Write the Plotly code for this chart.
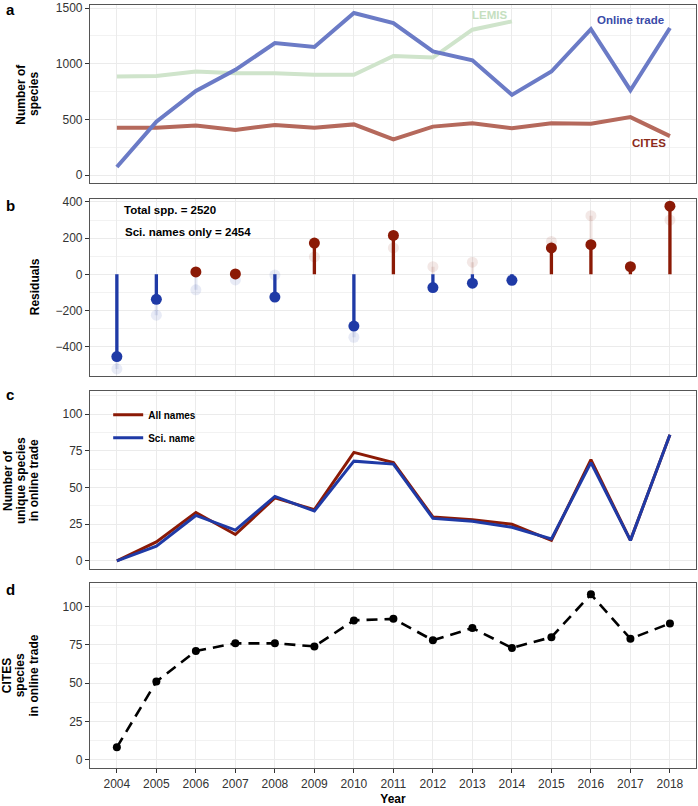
import plotly.graph_objects as go
from plotly.subplots import make_subplots

# ---------------- data ----------------
years = list(range(2004, 2019))
online_trade = [72, 480, 755, 945, 1185, 1150, 1455, 1365, 1110, 1030, 720, 930, 1310, 762, 1320]
lemis_years = list(range(2004, 2015))
lemis = [885, 890, 930, 915, 915, 900, 900, 1070, 1055, 1305, 1380]
cites = [425, 425, 445, 405, 450, 425, 455, 320, 435, 465, 420, 465, 460, 520, 350]

resid_main = [-455, -138, 13, 2, -126, 173, -286, 215, -73, -49, -33, 146, 164, 42, 377]
resid_faded = [-523, -226, -86, -31, -4, 96, -348, 146, 42, 67, -28, 182, 324, 38, 300]

unique_all = [0, 13, 33, 18, 43, 35, 74, 67, 30, 28, 25, 14, 69, 14, 86]
unique_sci = [0, 10, 31, 21, 44, 34, 68, 66, 29, 27, 23, 15, 67, 14, 86]

cites_online = [8, 51, 71, 76, 76, 74, 91, 92, 78, 86, 73, 80, 108, 79, 89]

total_label = "Total spp. = 2520"
sci_label = "Sci. names only = 2454"

# ---------------- style ----------------
FONT = "Liberation Sans, Arial, sans-serif"
RED = "#8B1A06"
BLUE = "#1F3AA6"
RED_FADE = "rgba(139,26,6,0.10)"
BLUE_FADE = "rgba(31,58,166,0.10)"

fig = make_subplots(rows=4, cols=1, shared_xaxes=False, vertical_spacing=0.0)

doms = [(0.7669, 1.0), (0.5143, 0.7461), (0.2608, 0.4935), (0.0, 0.2426)]

# ---- panel a ----
fig.add_trace(go.Scatter(x=lemis_years, y=lemis, mode="lines",
                         line=dict(color="#CFE4CB", width=4), showlegend=False), 1, 1)
fig.add_trace(go.Scatter(x=years, y=cites, mode="lines",
                         line=dict(color="#B5695C", width=4), showlegend=False), 1, 1)
fig.add_trace(go.Scatter(x=years, y=online_trade, mode="lines",
                         line=dict(color="#6B7BC6", width=4), showlegend=False), 1, 1)


# ---- panel b ----
def stems(xs, vs, positive):
    sx, sy, px, py = [], [], [], []
    for x, v in zip(xs, vs):
        if (v >= 0) == positive:
            sx += [x, x, None]
            sy += [0, v, None]
            px.append(x)
            py.append(v)
    return sx, sy, px, py


for vals, faded in ((resid_faded, True), (resid_main, False)):
    for positive in (True, False):
        sx, sy, px, py = stems(years, vals, positive)
        if faded:
            col = RED_FADE if positive else BLUE_FADE
        else:
            col = RED if positive else BLUE
        fig.add_trace(go.Scatter(x=sx, y=sy, mode="lines",
                                 line=dict(color=col, width=3.3), showlegend=False), 2, 1)
        fig.add_trace(go.Scatter(x=px, y=py, mode="markers",
                                 marker=dict(color=col, size=11, line=dict(width=0)),
                                 showlegend=False), 2, 1)

# ---- panel c ----
fig.add_trace(go.Scatter(x=years, y=unique_all, mode="lines", name="All names",
                         legendgroup="g1",
                         line=dict(color=RED, width=3)), 3, 1)
fig.add_trace(go.Scatter(x=years, y=unique_sci, mode="lines", name="Sci. name",
                         legendgroup="g2",
                         line=dict(color=BLUE, width=3)), 3, 1)

# ---- panel d ----
fig.add_trace(go.Scatter(x=years, y=cites_online, mode="lines+markers",
                         line=dict(color="black", width=2.6, dash="11px,7px"),
                         marker=dict(color="black", size=8),
                         showlegend=False), 4, 1)

# ---------------- axes ----------------
yranges = [[-70, 1527], [-560, 418], [-5.5, 115.5], [-5.5, 115.5]]
ydticks = [500, 200, 25, 25]
for i in range(4):
    n = "" if i == 0 else str(i + 1)
    fig.layout["xaxis" + n].update(
        domain=[0, 1], range=[2003.32, 2018.66], tickmode="linear", tick0=2004, dtick=1,
        showgrid=True, gridcolor="#EBEBEB", gridwidth=1, zeroline=False,
        showline=True, linecolor="#555555", linewidth=1.2, mirror=True,
        ticks="outside" if i == 3 else "", ticklen=4, tickcolor="#333333",
        showticklabels=(i == 3),
        tickfont=dict(family=FONT, size=12, color="#333333"),
    )
    fig.layout["yaxis" + n].update(
        domain=list(doms[i]), range=yranges[i], tickmode="linear", tick0=0, dtick=ydticks[i],
        showgrid=True, gridcolor="#EBEBEB", gridwidth=1, zeroline=False,
        minor=dict(showgrid=True, gridcolor="#F2F2F2", gridwidth=0.7, tick0=0,
                   dtick=ydticks[i] / 2, ticks=""),
        showline=True, linecolor="#555555", linewidth=1.2, mirror=True,
        ticks="outside", ticklen=4, tickcolor="#333333",
        tickfont=dict(family=FONT, size=12, color="#333333"),
    )

fig.layout.xaxis4.update(title=dict(text="Year", font=dict(family=FONT, size=12, color="black", weight="bold"),
                                    standoff=6))

# ---------------- annotations ----------------
ann = []
lab_font = dict(family=FONT, size=11.5, weight="bold")
ann.append(dict(x=2013.42, y=1438, xref="x", yref="y", text="LEMIS", showarrow=False,
                font=dict(lab_font, color="#C5DFC0")))
ann.append(dict(x=2017.0, y=1388, xref="x", yref="y", text="Online trade", showarrow=False,
                font=dict(lab_font, color="#3A4AA8")))
ann.append(dict(x=2017.47, y=289, xref="x", yref="y", text="CITES", showarrow=False,
                font=dict(lab_font, color="#8B2A1A")))

ann.append(dict(x=2004.12, y=356, xref="x2", yref="y2", text=total_label, showarrow=False,
                xanchor="left", font=dict(lab_font, color="black")))
ann.append(dict(x=2004.15, y=236, xref="x2", yref="y2", text=sci_label, showarrow=False,
                xanchor="left", font=dict(lab_font, color="black")))

letters = [("a", 0.9935), ("b", 0.737), ("c", 0.4896), ("d", 0.2344)]
for t, yy in letters:
    ann.append(dict(x=-0.1417, y=yy, xref="paper", yref="paper", text=t, showarrow=False,
                    xanchor="left", yanchor="middle",
                    font=dict(family=FONT, size=15, color="black", weight="bold")))

# y-axis titles: one annotation per line so the line spacing matches
PLOT_L, PLOT_W = 90, 607
titles = [(["Number of", "species"], 0.8836, 34),
          (["Residuals"], 0.6302, 35),
          (["Number of", "unique species", "in online trade"], 0.3772, 34),
          (["CITES", "species", "in online trade"], 0.1213, 34)]
for lines, yy, last_px in titles:
    nl = len(lines)
    for k, t in enumerate(lines):
        px = last_px - (nl - 1 - k) * 13.2
        ann.append(dict(x=(px - PLOT_L) / PLOT_W, y=yy, xref="paper", yref="paper", text=t,
                        showarrow=False, textangle=-90, xanchor="center", yanchor="middle",
                        font=dict(family=FONT, size=12, color="black", weight="bold")))

fig.update_layout(
    width=698, height=806,
    margin=dict(l=90, r=1, t=1, b=37),
    paper_bgcolor="white", plot_bgcolor="white",
    annotations=ann,
    legend=dict(x=0.03, y=0.482, xanchor="left", yanchor="top",
                bgcolor="rgba(255,255,255,0)", traceorder="grouped", tracegroupgap=4,
                font=dict(family=FONT, size=10, color="black", weight="bold")),
    font=dict(family=FONT),
)

fig.write_html("out.html", config={"displayModeBar": False},
               post_script="document.body.style.margin='0';document.body.style.overflow='hidden';")
